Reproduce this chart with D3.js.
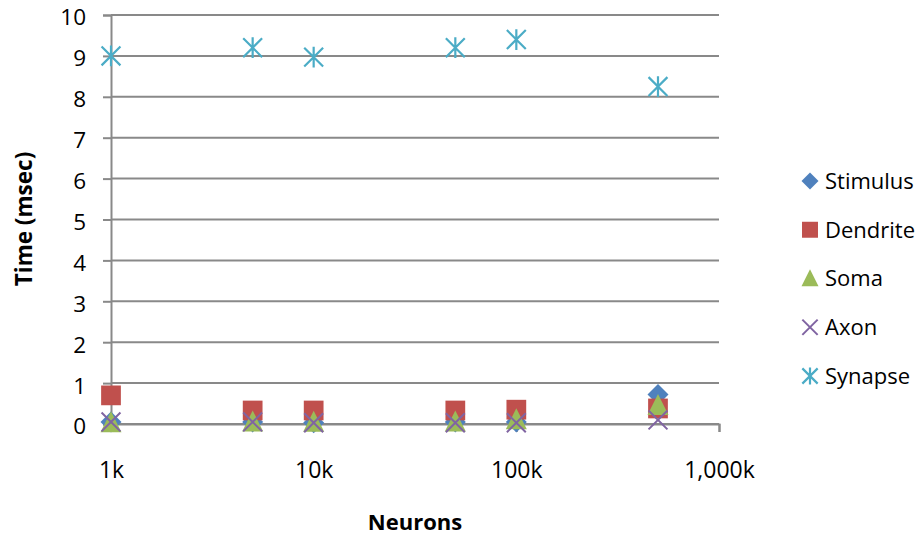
<!DOCTYPE html>
<html><head><meta charset="utf-8">
<script src="https://cdn.jsdelivr.net/npm/d3@7"></script>
<style>body{margin:0;background:#fff}svg{display:block}text{font-family:"Open Sans",sans-serif;fill:#000}</style>
</head><body><svg id="c" width="922" height="535"></svg>
<script>
const neurons = [1, 5, 10, 50, 100, 500]; // thousands
const seriesNames = ["Stimulus", "Dendrite", "Soma", "Axon", "Synapse"];
const stimulus = [0.05, 0.05, 0.03, 0.05, 0.05, 0.72];
const dendrite = [0.70, 0.33, 0.33, 0.33, 0.35, 0.38];
const soma     = [0.03, 0.05, 0.04, 0.05, 0.10, 0.45];
const axon     = [0.05, 0.05, 0.03, 0.03, 0.03, 0.10];
const synapse  = [9.00, 9.20, 8.97, 9.20, 9.40, 8.25];
const xTicks = [1, 10, 100, 1000];
const xTickLabels = ["1k", "10k", "100k", "1,000k"];
const yTicks = [0,1,2,3,4,5,6,7,8,9,10];

const colors = {Stimulus:"#4F81BD", Dendrite:"#C0504D", Soma:"#9BBB59", Axon:"#8064A2", Synapse:"#4BACC6"};
const values = {Stimulus:stimulus, Dendrite:dendrite, Soma:soma, Axon:axon, Synapse:synapse};

const svg = d3.select("#c");
const x = d3.scaleLog().domain([1, 1000]).range([111, 719]);
const y = d3.scaleLinear().domain([0, 10]).range([424, 15]);
const grid = "#898989";

// gridlines + y axis
const yAxis = d3.axisLeft(y).tickValues(yTicks).tickSize(8).tickPadding(17).tickFormat(d3.format("d"));
const gy = svg.append("g").attr("transform", "translate(111,0)").call(yAxis);
gy.select(".domain").attr("stroke", grid).attr("stroke-width", 2);
gy.selectAll(".tick line").attr("stroke", grid).attr("stroke-width", 2);
gy.selectAll(".tick text").attr("font-size", 22.5).attr("dy", "0.44em").attr("font-family", "Open Sans").attr("fill", "#000");
svg.append("g").selectAll("line").data(yTicks).join("line")
  .attr("x1", x(1)).attr("x2", x(1000)).attr("y1", d => y(d)).attr("y2", d => y(d))
  .attr("stroke", grid).attr("stroke-width", 2);

const xAxis = d3.axisBottom(x).tickValues(xTicks).tickSize(8).tickPadding(30).tickFormat((d, i) => xTickLabels[i]);
const gx = svg.append("g").attr("transform", "translate(0,424)").call(xAxis);
gx.select(".domain").attr("stroke", grid).attr("stroke-width", 2);
gx.selectAll(".tick line").attr("stroke", grid).attr("stroke-width", 2);
gx.selectAll(".tick text").attr("font-size", 23).attr("font-family", "Open Sans").attr("fill", "#000");

// markers
function marker(g, name, s) {
  const c = colors[name];
  if (name === "Stimulus") {
    g.append("path").attr("d", `M0,${-s/2}L${s/2},0L0,${s/2}L${-s/2},0Z`).attr("fill", c);
  } else if (name === "Dendrite") {
    g.append("rect").attr("x", -s*0.47).attr("y", -s*0.47).attr("width", s*0.94).attr("height", s*0.94).attr("fill", c);
  } else if (name === "Soma") {
    g.append("path").attr("d", `M0,${-s*0.55}L${s*0.5},${s*0.45}L${-s*0.5},${s*0.45}Z`).attr("fill", c);
  } else if (name === "Axon") {
    const h = s*0.45;
    g.append("path").attr("d", `M${-h},${-h}L${h},${h}M${h},${-h}L${-h},${h}`).attr("stroke", c).attr("stroke-width", 2).attr("fill", "none");
  } else {
    const h = s*0.45;
    g.append("path").attr("d", `M${-h},${-h}L${h},${h}M${h},${-h}L${-h},${h}M0,${-h*1.1}L0,${h*1.1}`).attr("stroke", c).attr("stroke-width", 2.2).attr("fill", "none");
  }
}

seriesNames.forEach(name => {
  const gs = svg.append("g");
  neurons.forEach((n, i) => {
    const g = gs.append("g").attr("transform", `translate(${x(n)},${y(values[name][i])})`);
    marker(g, name, 21);
  });
});

// legend
const legY = d3.scalePoint().domain(seriesNames).range([181, 376]);
seriesNames.forEach(name => {
  const g = svg.append("g").attr("transform", `translate(810,${legY(name)})`);
  marker(g, name, 17);
  g.append("text").attr("x", 15).attr("y", 0).attr("dy", "0.36em").attr("font-size", 22).text(name);
});

// axis titles
svg.append("text").attr("transform", "translate(32,219) rotate(-90)").attr("text-anchor", "middle")
  .attr("font-size", 22.5).attr("font-weight", "bold").text("Time (msec)");
svg.append("text").attr("x", 415).attr("y", 530).attr("text-anchor", "middle")
  .attr("font-size", 22).attr("font-weight", "bold").text("Neurons");
</script></body></html>
